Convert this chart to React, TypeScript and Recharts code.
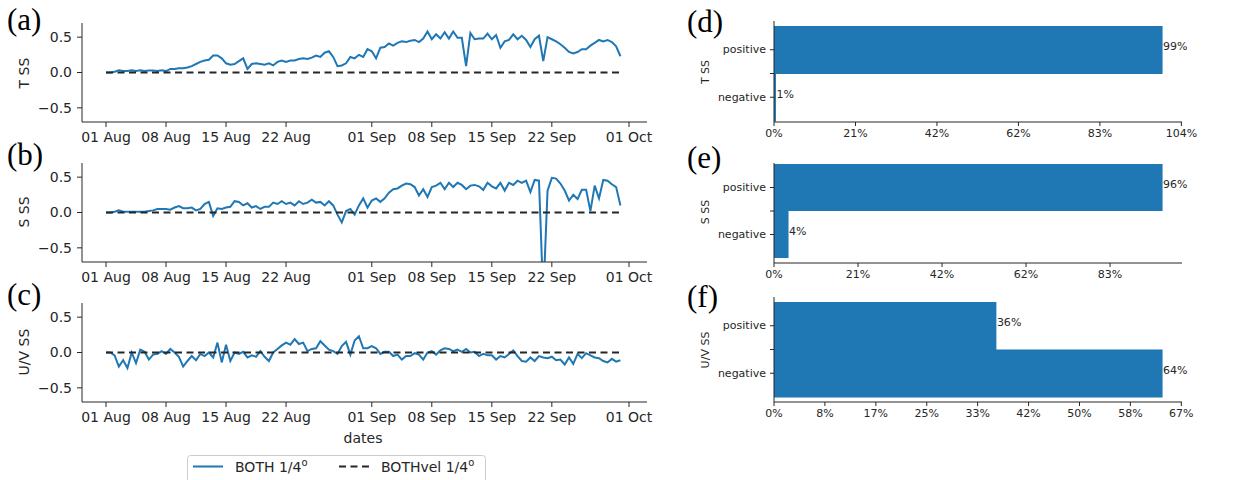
import { LineChart, Line, XAxis, YAxis, ReferenceLine, BarChart, Bar, LabelList } from 'recharts';

// half-daily skill scores, 01 Aug -> 30 Sep
const tSS = [
  0.0, 0.0, 0.01, 0.03, 0.02, 0.02, 0.03, 0.02, 0.03, 0.02,
  0.03, 0.03, 0.02, 0.03, 0.02, 0.05, 0.05, 0.06, 0.06, 0.07,
  0.09, 0.12, 0.15, 0.17, 0.18, 0.24, 0.24, 0.2, 0.13, 0.11,
  0.12, 0.16, 0.2, 0.05, 0.12, 0.13, 0.12, 0.11, 0.13, 0.1,
  0.15, 0.17, 0.15, 0.17, 0.17, 0.19, 0.2, 0.19, 0.21, 0.24,
  0.22, 0.28, 0.3, 0.22, 0.09, 0.1, 0.13, 0.22, 0.2, 0.25,
  0.22, 0.33, 0.3, 0.2, 0.35, 0.36, 0.41, 0.38, 0.42, 0.44,
  0.43, 0.45, 0.46, 0.43, 0.48, 0.58, 0.47, 0.54, 0.48, 0.57,
  0.48, 0.58, 0.49, 0.49, 0.09, 0.56, 0.47, 0.48, 0.48, 0.55,
  0.47, 0.53, 0.35, 0.44, 0.46, 0.54, 0.47, 0.52, 0.46, 0.36,
  0.47, 0.52, 0.16, 0.5, 0.47, 0.44, 0.4, 0.35, 0.29, 0.27,
  0.29, 0.33, 0.33, 0.38, 0.42, 0.46, 0.44, 0.46, 0.43, 0.37,
  0.23,
];

const sSS = [
  0.0, 0.0, 0.01, 0.03, 0.01, 0.01, 0.01, 0.01, 0.01, 0.01,
  0.02, 0.03, 0.05, 0.05, 0.05, 0.04, 0.07, 0.09, 0.06, 0.06,
  0.07, 0.03, 0.05, 0.12, 0.15, -0.05, 0.06, 0.05, 0.07, 0.08,
  0.16, 0.15, 0.1, 0.13, 0.07, 0.09, 0.05, 0.08, 0.08, 0.14,
  0.12, 0.16, 0.12, 0.14, 0.1, 0.16, 0.12, 0.14, 0.18, 0.14,
  0.15, 0.1, 0.16, 0.1, -0.03, -0.14, 0.02, 0.05, -0.03, 0.1,
  0.2, 0.07, 0.17, 0.2, 0.15, 0.2, 0.28, 0.33, 0.34, 0.38,
  0.41, 0.4, 0.36, 0.24, 0.33, 0.22, 0.36, 0.38, 0.42, 0.33,
  0.42, 0.36, 0.42, 0.39, 0.33, 0.38, 0.39, 0.37, 0.32, 0.42,
  0.37, 0.34, 0.42, 0.31, 0.42, 0.39, 0.45, 0.42, 0.45, 0.29,
  0.46, 0.45, -1.2, 0.31, 0.49, 0.48, 0.41, 0.31, 0.17, 0.25,
  0.19, 0.32, 0.32, 0.02, 0.38, 0.2, 0.46, 0.45, 0.4, 0.36,
  0.1,
];

const uvSS = [
  0.0, 0.0, -0.04, -0.2, -0.11, -0.22, 0.0, -0.15, 0.04, 0.01,
  -0.1, -0.03, -0.02, 0.02, -0.02, 0.05, 0.0, -0.06, -0.2, -0.12,
  -0.05, -0.11, -0.02, -0.05, 0.0, -0.07, 0.14, -0.14, 0.11, -0.12,
  0.0, -0.02, 0.01, -0.07, -0.04, -0.06, 0.02, -0.06, -0.12, 0.0,
  0.05, 0.1, 0.14, 0.11, 0.19, 0.12, 0.14, 0.02, 0.05, 0.06,
  0.16, 0.1, 0.04, 0.02, -0.02, 0.09, 0.15, -0.03, 0.17, 0.23,
  0.06, 0.06, 0.09, 0.06, -0.02, 0.01, 0.01, -0.05, -0.03, -0.1,
  -0.05, -0.05, -0.01, -0.03, -0.1, 0.0, 0.02, -0.03, 0.03, 0.06,
  0.05, 0.02, 0.04, 0.01, 0.05, 0.0, 0.01, -0.05, -0.02, -0.04,
  -0.04, -0.1, -0.05, -0.07, -0.02, 0.03, -0.05, -0.12, -0.13, -0.07,
  -0.12, -0.05, -0.07, -0.08, -0.06, -0.11, -0.1, -0.17, -0.07, -0.16,
  -0.02, -0.08, -0.01, -0.04, -0.07, -0.08, -0.12, -0.14, -0.09, -0.13,
  -0.11,
];

const stepDays = 0.5;
const lastDay = 60;
const dateTickDays = [0, 7, 14, 21, 31, 38, 45, 52, 61];
const dateTickLabels = ['01 Aug', '08 Aug', '15 Aug', '22 Aug', '01 Sep', '08 Sep', '15 Sep', '22 Sep', '01 Oct'];
const ssTicks = [-0.5, 0, 0.5];

// share of days with positive / negative skill (%)
const signs = ['positive', 'negative'];
const tShare = [99.2, 0.5];
const sShare = [96.2, 3.6];
const uvShare = [36.4, 63.6];
const pctTicksTS = [0, 20.8, 41.6, 62.4, 83.2, 104];
const pctTicksUV = [0, 8.33, 16.67, 25, 33.33, 41.67, 50, 58.33, 66.67];

const FONT = "'DejaVu Sans', sans-serif";
const SERIF = "'Liberation Serif', serif";
const INK = '#262626';
const BLUE = '#1f77b4';
const DASH = '7 4.5';

function SkillPanel({ values, top }: { values: number[]; top: number }) {
  const rows = values.map((v, i) => ({ d: i * stepDays, v }));
  return (
    <div style={{ position: 'absolute', left: 0, top }}>
      <LineChart width={660} height={145} data={rows} margin={{ top: 23, right: 13, bottom: 0, left: 0 }}>
        <XAxis
          type="number"
          dataKey="d"
          domain={[-2.8, 63.1]}
          allowDataOverflow
          ticks={dateTickDays}
          interval={0}
          tickFormatter={(v: number) => dateTickLabels[dateTickDays.indexOf(v)]}
          height={23}
          tickSize={5}
          tickMargin={5}
          stroke={INK}
          tick={{ fill: INK, fontSize: 14, fontFamily: FONT }}
        />
        <YAxis
          type="number"
          domain={[-0.7, 0.7]}
          allowDataOverflow
          ticks={ssTicks}
          interval={0}
          tickFormatter={(v: number) => (v < 0 ? '\u2212' : '') + Math.abs(v).toFixed(1)}
          width={82}
          tickSize={5}
          tickMargin={5}
          stroke={INK}
          tick={{ fill: INK, fontSize: 14, fontFamily: FONT }}
        />
        <Line
          type="linear"
          dataKey="v"
          stroke={BLUE}
          strokeWidth={2}
          dot={false}
          isAnimationActive={false}
        />
        <ReferenceLine
          segment={[{ x: 0, y: 0 }, { x: lastDay, y: 0 }]}
          stroke={INK}
          strokeWidth={2}
          strokeDasharray={DASH}
        />
      </LineChart>
    </div>
  );
}

function SignTick(props: any) {
  const { x, y, payload, index, band } = props;
  return (
    <g>
      <text x={x} y={y} textAnchor="end" dominantBaseline="central" fontSize={11} fontFamily={FONT} fill={INK}>
        {payload.value}
      </text>
      {index === 0 && <line x1={x + 4} x2={x + 8} y1={y + band / 2} y2={y + band / 2} stroke={INK} />}
    </g>
  );
}

function ShareLabel(props: any) {
  const { x, y, width, height, value } = props;
  return (
    <text
      x={Number(x) + Number(width) + 0.5}
      y={Number(y) + Number(height) / 2 - 3.5}
      dominantBaseline="central"
      fontSize={11}
      fontFamily={FONT}
      fill={INK}
    >
      {Math.round(Number(value))}%
    </text>
  );
}

function SharePanel({
  shares,
  ticks,
  top,
  marginTop,
  plotH,
  pad,
}: {
  shares: number[];
  ticks: number[];
  top: number;
  marginTop: number;
  plotH: number;
  pad: { top: number; bottom: number };
}) {
  const rows = signs.map((s, i) => ({ sign: s, pct: shares[i] }));
  const xMax = Math.max(...shares) * 1.05;
  const band = (plotH - pad.top - pad.bottom) / 2;
  return (
    <div style={{ position: 'absolute', left: 680, top }}>
      <BarChart
        width={573}
        height={marginTop + plotH + 23}
        data={rows}
        layout="vertical"
        barCategoryGap={0}
        margin={{ top: marginTop, right: 71, bottom: 0, left: 0 }}
      >
        <XAxis
          type="number"
          domain={[0, xMax]}
          allowDataOverflow
          ticks={ticks.filter((t) => t <= xMax)}
          interval={0}
          tickFormatter={(v: number) => `${Math.round(v)}%`}
          height={23}
          tickSize={4}
          tickMargin={3}
          stroke={INK}
          tick={{ fill: INK, fontSize: 11, fontFamily: FONT }}
        />
        <YAxis
          type="category"
          dataKey="sign"
          width={94}
          padding={pad}
          tickSize={4}
          tickMargin={4}
          stroke={INK}
          tick={<SignTick band={band} />}
        />
        <Bar dataKey="pct" fill={BLUE} isAnimationActive={false}>
          <LabelList dataKey="pct" content={<ShareLabel />} />
        </Bar>
      </BarChart>
    </div>
  );
}

export default function App() {
  return (
    <div style={{ position: 'absolute', left: 0, top: 0, width: 1253, height: 480, background: '#fff', overflow: 'hidden' }}>
      <SkillPanel values={tSS} top={0} />
      <SkillPanel values={sSS} top={140} />
      <SkillPanel values={uvSS} top={280} />
      <SharePanel shares={tShare} ticks={pctTicksTS} top={0} marginTop={21} plotH={101} pad={{ top: 5, bottom: 1 }} />
      <SharePanel shares={sShare} ticks={pctTicksTS} top={140} marginTop={23} plotH={100} pad={{ top: 1, bottom: 5 }} />
      <SharePanel shares={uvShare} ticks={pctTicksUV} top={280} marginTop={17} plotH={105} pad={{ top: 5, bottom: 5 }} />
      <svg width={1253} height={480} style={{ position: 'absolute', left: 0, top: 0, pointerEvents: 'none' }}>
        <g fontFamily={SERIF} fontSize={31} fill="#000">
          <text x={7} y={30}>(a)</text>
          <text x={7} y={165}>(b)</text>
          <text x={7} y={305}>(c)</text>
          <text x={687} y={32}>(d)</text>
          <text x={687} y={168}>(e)</text>
          <text x={687} y={307}>(f)</text>
        </g>
        <g fontFamily={FONT} fontSize={14} fill={INK} textAnchor="middle" dominantBaseline="central">
          <text transform="translate(24,73) rotate(-90)">T SS</text>
          <text transform="translate(24,212) rotate(-90)">S SS</text>
          <text transform="translate(24,352) rotate(-90)">U/V SS</text>
        </g>
        <g fontFamily={FONT} fontSize={11} fill={INK} textAnchor="middle" dominantBaseline="central">
          <text transform="translate(705,72) rotate(-90)">T SS</text>
          <text transform="translate(705,212) rotate(-90)">S SS</text>
          <text transform="translate(705,350) rotate(-90)">U/V SS</text>
        </g>
        <text x={363} y={442.5} textAnchor="middle" fontFamily={FONT} fontSize={14} fill={INK}>
          dates
        </text>
        <g fontFamily={FONT} fontSize={14} fill={INK}>
          <rect x={187.5} y={455.5} width={298} height={34} rx={3} fill="#fff" stroke="#cccccc" />
          <line x1={193} x2={223} y1={466.5} y2={466.5} stroke={BLUE} strokeWidth={2} />
          <text x={235} y={472}>
            BOTH 1/4<tspan fontSize={10} dy={-6}>o</tspan>
          </text>
          <line x1={339} x2={369} y1={466.5} y2={466.5} stroke={INK} strokeWidth={2} strokeDasharray={DASH} />
          <text x={381} y={472}>
            BOTHvel 1/4<tspan fontSize={10} dy={-6}>o</tspan>
          </text>
        </g>
      </svg>
    </div>
  );
}
